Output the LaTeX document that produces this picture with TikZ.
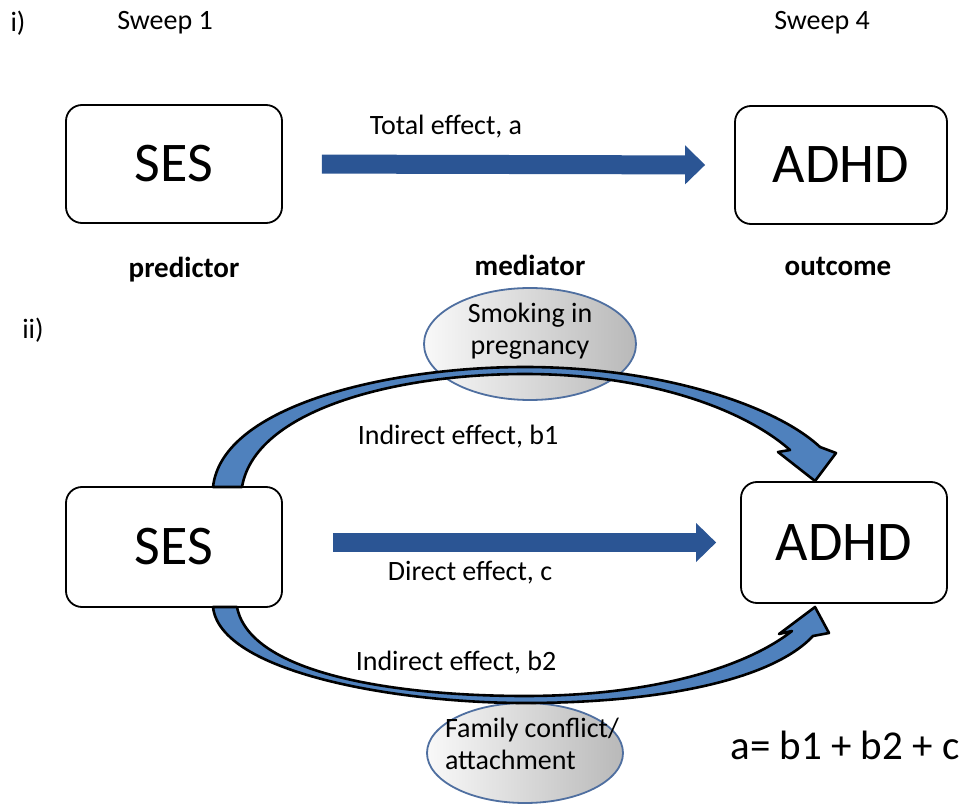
\documentclass[tikz,border=0pt]{standalone}
\usepackage{fontspec}
\setmainfont{Carlito}
\usepackage{tikz}
\usetikzlibrary{positioning, arrows.meta, shapes.geometric}
\definecolor{arrowDark}{HTML}{2B5594}
\definecolor{arrowLight}{HTML}{4F81BD}
\definecolor{ellEdge}{HTML}{4F6FA0}

\begin{document}
\begin{tikzpicture}[x=1pt, y=-1pt,
    varbox/.style={draw, line width=1.8pt, rounded corners=16pt,
      font=\fontsize{56}{60}\selectfont},
    medell/.style={ellipse, draw=ellEdge, line width=1.8pt,
      left color=gray!5, right color=gray!55},
    lbl/.style={font=\fontsize{28}{32}\selectfont},
    rolelbl/.style={font=\fontsize{29}{34}\selectfont\bfseries},
    flatarrow/.style={draw=arrowDark, line width=19pt,
      -{Triangle[length=20pt, width=39pt, line width=0pt]}},
    bendarrow/.style={fill=arrowLight, draw=black, line width=2.6pt, line join=round},
  ]
  \useasboundingbox (0,0) rectangle (967,805);

  % i) total effect
  \node[lbl] (parti) at (18,23) {i)};
  \node[lbl] (sweep1) at (165,23) {Sweep 1};
  \node[lbl] (sweep4) at (822,23) {Sweep 4};
  \node[varbox, minimum width=216pt, minimum height=118pt] (ses1) at (174,164) {SES};
  \node[varbox, minimum width=212pt, minimum height=118pt] (adhd1) at (841,165) {ADHD};
  \draw[flatarrow, shorten <=39pt, shorten >=29pt] (ses1.east) -- (adhd1.west);
  \node[lbl] (total) at (446,127) {Total effect, a};
  \node[rolelbl] (pred) at (184,270) {predictor};
  \node[rolelbl] (med) at (530,265) {mediator};
  \node[rolelbl] (outc) at (838,266) {outcome};

  % ii) mediation
  \node[lbl] (partii) at (33,330) {ii)};
  \node[medell, minimum width=212pt, minimum height=112pt] (smoke) at (530,344) {};
  \node[lbl, align=center] (smoketxt) at ([yshift=13pt]smoke.center) {Smoking in\\pregnancy};
  \node[medell, minimum width=196pt, minimum height=100pt] (family) at (525,753) {};
  \node[lbl, align=left] (familytxt) at ([xshift=7pt, yshift=9pt]family.center) {Family conflict/\\attachment};

  \node[varbox, minimum width=216pt, minimum height=120pt] (ses2) at (174,547) {SES};
  \node[varbox, minimum width=206pt, minimum height=121pt] (adhd2) at (844,542.5) {ADHD};
  \draw[flatarrow, shorten <=50pt, shorten >=24pt] (ses2.east |- adhd2.west) -- (adhd2.west);

  \draw[bendarrow] (213,487) .. controls (222,405) and (390,367) .. (525,367)
    .. controls (660,367) and (775,405) .. (820,447)
    -- (836,453) -- (815,481) -- (778,452) -- (790,450)
    .. controls (745,410) and (650,374) .. (525,374)
    .. controls (395,374) and (255,410) .. (242,487) -- cycle;
  \draw[bendarrow] (213,607) .. controls (220,672) and (395,703) .. (525,703)
    .. controls (660,703) and (772,680) .. (813,636)
    -- (829,633) -- (815,607) -- (779,634) -- (792,631)
    .. controls (745,668) and (650,696) .. (525,696)
    .. controls (400,696) and (250,675) .. (237,607) -- cycle;

  \node[lbl] (b1lbl) at (458,437) {Indirect effect, b1};
  \node[lbl] (clbl) at (470,573) {Direct effect, c};
  \node[lbl] (b2lbl) at (456,663) {Indirect effect, b2};
  \node[font=\fontsize{41}{46}\selectfont] (sum) at (845,745) {a= b1 + b2 + c};
\end{tikzpicture}
\end{document}
